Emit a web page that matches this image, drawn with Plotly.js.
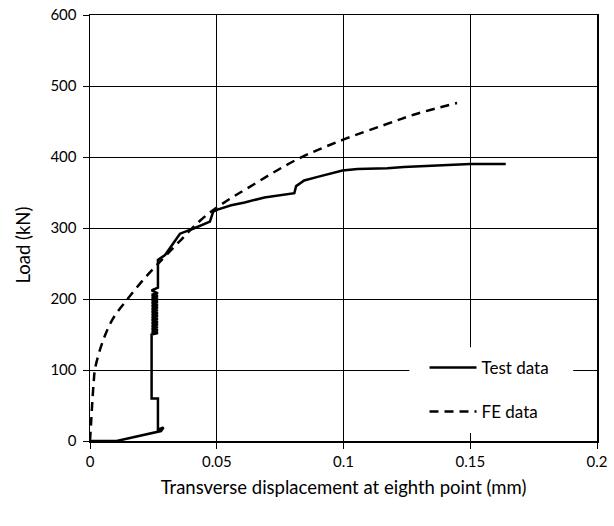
<!DOCTYPE html>
<html>
<head>
<meta charset="utf-8">
<script src="https://cdn.plot.ly/plotly-3.0.1.min.js"></script>
<style>html,body{margin:0;padding:0;background:#fff;}#chart{width:614px;height:526px;}</style>
</head>
<body>
<div id="chart"></div>
<script>
// Test data (displacement mm, load kN)
const testX = [0, 0.0105, 0.0280, 0.0290, 0.0268, 0.0268, 0.0243, 0.0243,
  0.0268, 0.0243, 0.0268, 0.0243, 0.0268, 0.0243, 0.0268, 0.0243, 0.0268, 0.0243, 0.0268, 0.0243,
  0.0268, 0.0243, 0.0268, 0.0243, 0.0268, 0.0243, 0.0268, 0.0243, 0.0268, 0.0243, 0.0268, 0.0243,
  0.0268, 0.0243, 0.0268, 0.0243, 0.0268, 0.0243,
  0.0268, 0.0268, 0.0296, 0.0319, 0.0355, 0.0414, 0.0473, 0.0486, 0.0503, 0.0557, 0.0610,
  0.0688, 0.0806, 0.0813, 0.0845, 0.0898, 0.0950, 0.0996, 0.1055, 0.1173, 0.1238, 0.1356, 0.1474, 0.1500, 0.1640];
const testY = [0, 0, 14, 19, 16, 60, 60, 150,
  152, 154, 156, 158, 160, 162, 164, 166, 168, 170, 172, 174,
  176, 178, 180, 182, 184, 186, 188, 190, 192, 194, 196, 198,
  200, 202, 204, 206, 208, 212,
  216, 255, 262, 274, 292, 300, 309, 323, 326, 332, 336,
  343, 349, 359, 367, 372, 377, 381, 383, 384, 386, 388, 389, 390, 390];

// FE data
const feX = [0, 0.0005, 0.0010, 0.0015, 0.0020, 0.0050, 0.0090, 0.0146, 0.0210, 0.0264, 0.0350,
  0.0436, 0.0513, 0.0630, 0.0819, 0.0996, 0.1160, 0.1290, 0.1448];
const feY = [0, 30, 60, 85, 102, 140, 172, 199, 227, 248, 280,
  311, 332, 358, 397, 424, 445, 461, 476];

const xTicks = [0, 0.05, 0.1, 0.15, 0.2];
const xTickText = ['0', '0.05', '0.1', '0.15', '0.2'];
const yTicks = [0, 100, 200, 300, 400, 500, 600];
const xTitle = 'Transverse displacement at eighth point (mm)';
const yTitle = 'Load (kN)';

const fam = 'Lato, "Open Sans", sans-serif';
const tickFont = {family: fam, size: 15, color: '#000'};
const titleFont = {family: fam, size: 18.5, color: '#000'};

const traces = [
  {x: testX, y: testY, name: 'Test data', mode: 'lines', legendgroup: 'a',
   line: {color: '#000', width: 2.5}},
  {x: feX, y: feY, name: 'FE data', mode: 'lines', legendgroup: 'b',
   line: {color: '#000', width: 2.5, dash: '9px,6px', shape: 'spline'}}
];

const layout = {
  width: 614, height: 526,
  margin: {l: 90, r: 17, t: 15, b: 85},
  paper_bgcolor: '#fff', plot_bgcolor: '#fff',
  font: tickFont,
  showlegend: true,
  legend: {x: 0.788, y: 0.12, xanchor: 'center', yanchor: 'middle', bgcolor: 'rgba(0,0,0,0)',
    font: {family: fam, size: 17, color: '#000'},
    tracegroupgap: 19, traceorder: 'grouped', itemwidth: 47},
  shapes: [{type: 'rect', xref: 'paper', yref: 'paper', x0: 0.63, x1: 0.953, y0: 0.019, y1: 0.22,
    fillcolor: '#fff', line: {width: 0}, layer: 'above'}],
  annotations: [{text: yTitle, xref: 'paper', yref: 'paper', x: -0.133, y: 0.46, xanchor: 'center', yanchor: 'middle',
    textangle: -90, showarrow: false, font: titleFont}],
  xaxis: {range: [0, 0.2], tickvals: xTicks, ticktext: xTickText, showgrid: true, gridcolor: '#000', gridwidth: 1,
    showline: true, linecolor: '#000', linewidth: 1.5, mirror: true, ticks: 'outside', ticklen: 6, tickcolor: '#000',
    zeroline: false, tickfont: tickFont,
    title: {text: xTitle, font: titleFont, standoff: 12}},
  yaxis: {range: [0, 600], tickvals: yTicks, showgrid: true, gridcolor: '#000', gridwidth: 1,
    showline: true, linecolor: '#000', linewidth: 1.5, mirror: true, ticks: 'outside', ticklen: 6, tickcolor: '#000',
    zeroline: false, tickfont: tickFont, ticklabelstandoff: 3}
};

Plotly.newPlot('chart', traces, layout, {displayModeBar: false, staticPlot: true});
</script>
</body>
</html>
